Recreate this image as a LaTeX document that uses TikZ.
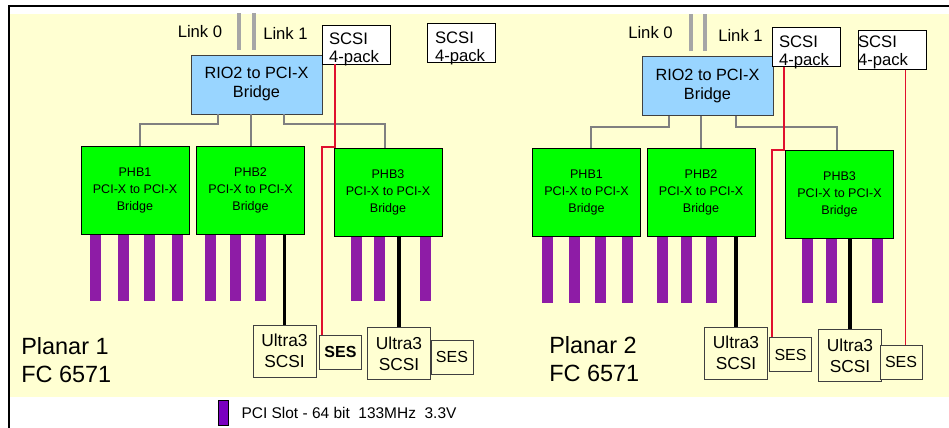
\documentclass[tikz,border=0pt]{standalone}
\usepackage{fontspec}
\setmainfont{Liberation Sans}
\usetikzlibrary{positioning, calc}

\definecolor{planar}{HTML}{FFFFD2}
\definecolor{rioblue}{HTML}{99D5FF}
\definecolor{phbgreen}{HTML}{00FF00}
\definecolor{slotpurple}{HTML}{8E1CA6}
\definecolor{keypurple}{HTML}{7A00C0}
\definecolor{sasred}{HTML}{E0102F}

\tikzset{
  rio/.style={draw=black!75, fill=rioblue, minimum width=98.25pt, minimum height=44.25pt, inner sep=0pt, align=center, font=\fontsize{12.2}{14.25}\selectfont},
  phb/.style={draw=black, fill=phbgreen, minimum width=81pt, minimum height=66pt, inner sep=0pt, align=center, font=\fontsize{9.4}{12.75}\selectfont},
  scsibox/.style={draw=black, fill=white, minimum width=51pt, minimum height=29.25pt, inner sep=0pt},
  packtext/.style={anchor=north west, inner sep=0pt, align=left, font=\fontsize{12.5}{13.5}\selectfont},
  ultra/.style={draw=black!75, fill=planar, minimum width=47.25pt, minimum height=39pt, inner sep=0pt, align=center, font=\fontsize{13}{16}\selectfont},
  ses/.style={draw=black!75, fill=planar, minimum width=31.5pt, minimum height=25.5pt, inner sep=0pt, font=\fontsize{12}{14}\selectfont},
  linktext/.style={inner sep=0pt, font=\fontsize{12.5}{14}\selectfont},
  planartext/.style={anchor=north west, inner sep=0pt, align=left, font=\fontsize{17.6}{21}\selectfont},
  slot/.style={fill=slotpurple},
  bus/.style={draw=black!50, line width=1.5pt},
  link/.style={draw=black!35, line width=2.6pt},
  sasline/.style={draw=sasred, line width=1.4pt},
  scsiline/.style={draw=black, line width=2.6pt}
}

\begin{document}
\begin{tikzpicture}[x=0.75pt, y=-0.75pt]
  \useasboundingbox (0,0) rectangle (949,428);
  % board and frame
  \fill[planar] (10,14) rectangle (949,397);
  \draw[black, line width=0.8pt] (9,428) -- (9,6) -- (949,6);

  % slots
  \foreach \x in {95,123,149,177,210,235,260} \fill[slot] (\x-5.5,234) rectangle ++(11,67);
  \foreach \x in {356,379,425} \fill[slot] (\x-5.5,236) rectangle ++(11,65);
  \foreach \x in {547,574,600,627,662,686,711} \fill[slot] (\x-5.5,237) rectangle ++(11,66);
  \foreach \x in {807,831,877} \fill[slot] (\x-5.5,239) rectangle ++(11,64);

  % planar 1
  \node[rio] (l-rio) at (256.5,84.5) {RIO2 to PCI-X\\Bridge};
  \node[phb] (l-phb1) at (135,190) {PHB1\\PCI-X to PCI-X\\Bridge};
  \node[phb, right=5.25pt of l-phb1] (l-phb2) {PHB2\\PCI-X to PCI-X\\Bridge};
  \node[phb] (l-phb3) at (388,192) {PHB3\\PCI-X to PCI-X\\Bridge};
  \node[scsibox] (l-scsi1) at (356,44.5) {};
  \node[scsibox] (l-scsi2) at (461,43) {};
  \node[packtext] (l-scsi1-txt) at ([shift={(5.25pt,-6pt)}]l-scsi1.north west) {SCSI\\4-pack};
  \node[packtext] (l-scsi2-txt) at ([shift={(6pt,-6pt)}]l-scsi2.north west) {SCSI\\4-pack};
  \node[ultra] (l-u1) at (284.5,351) {Ultra3\\SCSI};
  \node[ses, font=\fontsize{12}{14}\selectfont\bfseries] (l-ses1) at (340.5,352) {SES};
  \node[ultra] (l-u2) at (399,353.5) {Ultra3\\SCSI};
  \node[ses] (l-ses2) at (452,357) {SES};
  \node[linktext] (l-link0) at (200,32) {Link 0};
  \node[linktext] (l-link1) at (285.5,33) {Link 1};
  \node[planartext] (l-name) at (21,337) {Planar 1\\FC 6571};

  \draw[link] ([xshift=-13.125pt,yshift=3.75pt]l-rio.north) -- ++(0,-37);
  \draw[link] ([xshift=-1.875pt,yshift=3.75pt]l-rio.north) -- ++(0,-37);
  \draw[bus] ([xshift=-28.875pt]l-rio.south) -- ++(0,10) -| ([xshift=3.75pt]l-phb1.north);
  \draw[bus] (l-rio.south -| l-phb2.north) -- (l-phb2.north);
  \draw[bus] ([xshift=20.625pt]l-rio.south) -- ++(0,10) -| ([xshift=-2.25pt]l-phb3.north);
  \draw[sasline] ([xshift=-15.75pt]l-scsi1.south) -- ++(0,83) -| ([xshift=2.25pt]l-ses1.north west);
  \draw[scsiline] (l-u1.north |- l-phb2.south) -- (l-u1.north);
  \draw[scsiline] (l-u2.north |- l-phb3.south) -- (l-u2.north);

  % planar 2
  \node[rio] (r-rio) at (707.5,86) {RIO2 to PCI-X\\Bridge};
  \node[phb] (r-phb1) at (586.5,192.5) {PHB1\\PCI-X to PCI-X\\Bridge};
  \node[phb, right=4.5pt of r-phb1] (r-phb2) {PHB2\\PCI-X to PCI-X\\Bridge};
  \node[phb] (r-phb3) at (839.5,194.5) {PHB3\\PCI-X to PCI-X\\Bridge};
  \node[scsibox] (r-scsi1) at (806,47) {};
  \node[scsibox] (r-scsi2) at (892,50) {};
  \node[packtext] (r-scsi1-txt) at ([shift={(5.25pt,-6pt)}]r-scsi1.north west) {SCSI\\4-pack};
  \node[packtext] (r-scsi2-txt) at ([shift={(0pt,-4pt)}]r-scsi2.north west) {SCSI\\4-pack};
  \node[ultra] (r-u1) at (736,353) {Ultra3\\SCSI};
  \node[ses] (r-ses1) at (790.5,354.5) {SES};
  \node[ultra] (r-u2) at (850,355.5) {Ultra3\\SCSI};
  \node[ses] (r-ses2) at (901,362) {SES};
  \node[linktext] (r-link0) at (650.5,33) {Link 0};
  \node[linktext] (r-link1) at (740.5,35) {Link 1};
  \node[planartext] (r-name) at (549,336) {Planar 2\\FC 6571};

  \draw[link] ([xshift=-12.375pt,yshift=3.75pt]r-rio.north) -- ++(0,-37);
  \draw[link] ([xshift=-1.875pt,yshift=3.75pt]r-rio.north) -- ++(0,-37);
  \draw[bus] ([xshift=-28.875pt]r-rio.south) -- ++(0,11) -| ([xshift=3.375pt]r-phb1.north);
  \draw[bus] (r-rio.south -| r-phb2.north) -- (r-phb2.north);
  \draw[bus] ([xshift=21.375pt]r-rio.south) -- ++(0,11) -| ([xshift=-1.875pt]r-phb3.north);
  \draw[sasline] ([xshift=-16.5pt]r-scsi1.south) -- ++(0,83) -| ([xshift=2.25pt]r-ses1.north west);
  \draw[sasline] ([xshift=10.125pt]r-scsi2.south) -- ([xshift=10.125pt]r-scsi2.south |- r-ses2.north);
  \draw[scsiline] (r-u1.north |- r-phb2.south) -- (r-u1.north);
  \draw[scsiline] (r-u2.north |- r-phb3.south) -- (r-u2.north);

  % legend
  \node[draw=black, fill=keypurple, minimum width=7.5pt, minimum height=18.75pt, inner sep=0pt] (key-slot) at (223,412.5) {};
  \node[right=9.75pt of key-slot, inner sep=0pt, font=\fontsize{11.6}{14}\selectfont] (key-text) {PCI Slot - 64 bit\ \ 133MHz\ \ 3.3V};
\end{tikzpicture}
\end{document}
